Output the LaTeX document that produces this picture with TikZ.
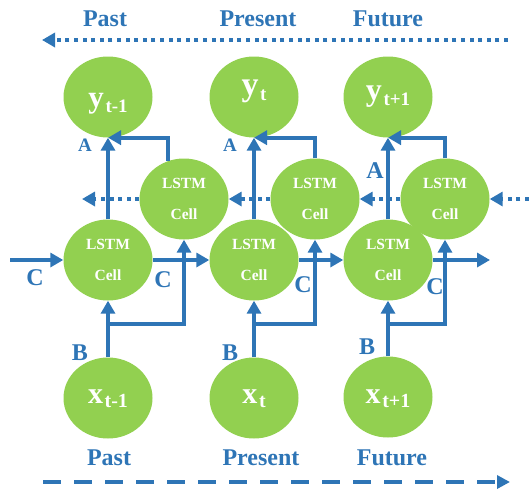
\documentclass[tikz,border=0pt]{standalone}
\usepackage{fontspec}
\setmainfont{Liberation Serif}
\usetikzlibrary{arrows.meta,shapes.geometric}
\definecolor{cellgreen}{HTML}{92D050}
\definecolor{flowblue}{HTML}{2E75B6}

% output and input labels: large letter with a lowered time index
\newcommand{\outtext}[2]{{\fontsize{#1}{#1}\selectfont y}\,\raisebox{-5pt}{\fontsize{19}{19}\selectfont #2}}
\newcommand{\intext}[1]{{\fontsize{30}{30}\selectfont x}\,\raisebox{-4pt}{\fontsize{20}{20}\selectfont #1}}

\begin{document}
\begin{tikzpicture}[x=1pt,y=-1pt,
  blob/.style={ellipse, fill=cellgreen, minimum width=89pt, minimum height=81pt,
    inner sep=0pt, text=white},
  cell/.style={blob, font=\bfseries\fontsize{15.5}{31}\selectfont, align=center},
  io/.style={blob, font=\bfseries},
  flow/.style={draw=flowblue, line width=4.3pt, -{Triangle[length=13pt,width=14pt]}},
  back/.style={draw=flowblue, line width=4.3pt, dash pattern=on 4pt off 4.6pt,
    -{Triangle[length=13pt,width=14pt]}},
  fwd/.style={draw=flowblue, line width=4.3pt, dash pattern=on 18pt off 13pt,
    -{Triangle[length=13pt,width=13pt]}},
  tag/.style={text=flowblue, font=\bfseries\fontsize{24}{24}\selectfont, inner sep=0pt},
  smalltag/.style={tag, font=\bfseries\fontsize{19}{19}\selectfont},
]
\useasboundingbox (0,0) rectangle (529,490);

% time direction labels and arrows
\node[tag, anchor=base] (tp) at (105,26) {Past};
\node[tag, anchor=base] (tn) at (258,26) {Present};
\node[tag, anchor=base] (tf) at (388,26) {Future};
\node[tag, anchor=base] (bp) at (109,465) {Past};
\node[tag, anchor=base] (bn) at (261,465) {Present};
\node[tag, anchor=base] (bf) at (392,465) {Future};
\coordinate (topR) at (508,40);
\coordinate (topL) at (42,40);
\coordinate (botL) at (43,482);
\coordinate (botR) at (510,482);
\draw[back] (topR) -- (topL);
\draw[fwd] (botL) -- (botR);

% outputs
\node[io, text height=20pt, text depth=0pt] (y1) at (108,97) {\outtext{31}{t-1}};
\node[io, text height=4pt, text depth=8pt] (y2) at (254,97) {\outtext{34}{t}};
\node[io, text height=6pt, text depth=0pt] (y3) at (388,97) {\outtext{32}{t+1}};

% backward cells
\node[cell] (u1) at (184,199) {LSTM\\Cell};
\node[cell] (u2) at (315,199) {LSTM\\Cell};
\node[cell] (u3) at (445,199) {LSTM\\Cell};

% forward cells
\node[cell] (l1) at (108,260) {LSTM\\Cell};
\node[cell] (l2) at (254,260) {LSTM\\Cell};
\node[cell] (l3) at (388,260) {LSTM\\Cell};

% inputs
\node[io, text height=10pt, text depth=0pt] (x1) at (108,398) {\intext{t-1}};
\node[io, text height=10pt, text depth=0pt] (x2) at (254,398) {\intext{t}};
\node[io, text height=12pt, text depth=0pt] (x3) at (388,397) {\intext{t+1}};

% branch points of the inputs
\coordinate (s1) at (108,324);
\coordinate (s2) at (254,324);
\coordinate (s3) at (388,324);

% inputs to both cell rows
\draw[flow] (x1.north) -- (l1.south);
\draw[flow] (x2.north) -- (l2.south);
\draw[flow] (x3.north) -- (l3.south);
\draw[flow] (s1) -| (u1.south);
\draw[flow] (s2) -| (u2.south);
\draw[flow] (s3) -| (u3.south);

% forward state
\coordinate (cin) at (10,260);
\coordinate (cout) at (490,260);
\draw[flow] (cin) -- (l1.west);
\draw[flow] (l1.east) -- (l2.west);
\draw[flow] (l2.east) -- (l3.west);
\draw[flow] (l3.east) -- (cout);

% backward state
\coordinate (bin) at (529,199);
\coordinate (bout) at (82,199);
\draw[back] (bin) -- (u3.east);
\draw[back] (u3.west) -- (u2.east);
\draw[back] (u2.west) -- (u1.east);
\draw[back] (u1.west) -- (bout);

% cells to outputs
\draw[flow] (l1.north) -- (y1.south);
\draw[flow] (l2.north) -- (y2.south);
\draw[flow] (l3.north) -- (y3.south);
\draw[flow] (u1.113) |- (y1.south);
\draw[flow] (u2.north) |- (y2.south);
\draw[flow] (u3.north) |- (y3.south);

% connector labels
\node[smalltag] (a1) at (85,145) {A};
\node[smalltag] (a2) at (230,145) {A};
\node[tag] (a3) at (375,171) {A};
\node[tag] (b1) at (80,353) {B};
\node[tag] (b2) at (230,353) {B};
\node[tag] (b3) at (367,347) {B};
\node[tag] (c1) at (35,278) {C};
\node[tag] (c2) at (163,280) {C};
\node[tag] (c3) at (303,285) {C};
\node[tag] (c4) at (435,287) {C};
\end{tikzpicture}
\end{document}
